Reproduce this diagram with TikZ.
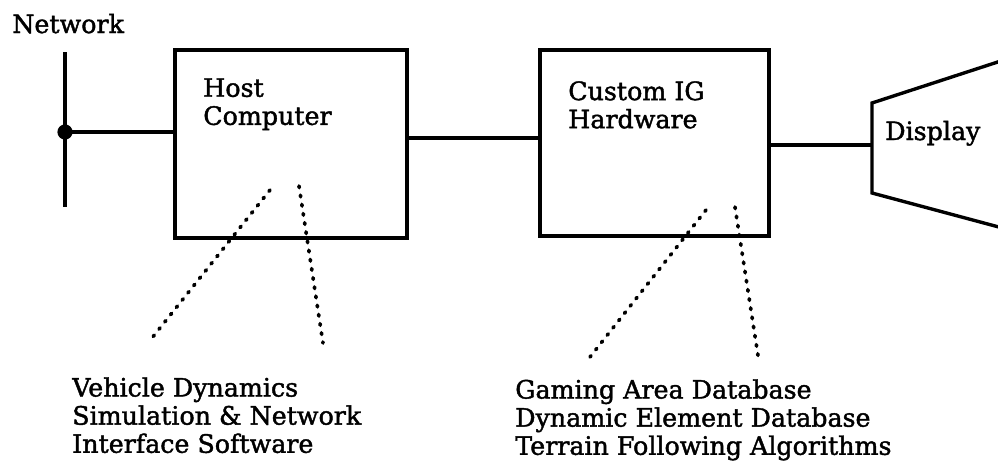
\documentclass[tikz,border=0pt]{standalone}
\usepackage{fontspec}
\setmainfont{DejaVu Serif}[FakeBold=1.6]
\usepackage{tikz}
\usetikzlibrary{calc, positioning}

\begin{document}
\begin{tikzpicture}[x=0.025cm, y=-0.025cm,
  font=\fontsize{18}{20}\selectfont,
  blockbox/.style={draw, line width=2.4pt, inner sep=0pt},
  busline/.style={line width=3.4pt},
  leader/.style={line width=2.6pt, line cap=round, dash pattern=on 1.2pt off 5.4pt},
  lbl/.style={inner sep=0pt, align=left, anchor=north west}]
  \useasboundingbox (0,0) rectangle (998,461);
  % network bus
  \node[anchor=base west, inner sep=0pt] (netlabel) at (12,33) {Network};
  \coordinate (bustop) at (65,52);
  \coordinate (busbot) at (65,207);
  \node[circle, fill, inner sep=0pt, minimum size=0.38cm] (junc) at (65,132) {};
  % boxes
  \node[blockbox, minimum width=5.8cm, minimum height=4.7cm] (host) at (291,144) {};
  \node[blockbox, minimum width=5.725cm, minimum height=4.65cm] (igbox) at (654.5,143) {};
  \node[lbl] (hostlbl) at (203,78) {Host\\Computer};
  \node[lbl] (iglbl) at (568,81) {Custom IG\\Hardware};
  % display
  \coordinate (disptl) at (872,103);
  \coordinate (dispbl) at (872,193);
  \coordinate (dispin) at (872,145);
  \node[anchor=base west, inner sep=0pt] (displbl) at (885,140) {Display};
  % links
  \coordinate (linkmid) at (470,138);
  \draw[busline] (bustop) -- (busbot);
  \draw[busline] (junc.center) -- (junc -| host.west);
  \draw[busline] (host.east |- linkmid) -- (igbox.west |- linkmid);
  \draw[busline] (igbox.east |- dispin) -- (dispin);
  \draw[line width=2.4pt, line join=miter] (1010,58) -- (disptl) -- (dispbl) -- (1010,230);
  % software notes
  \node[lbl] (hostnote) at (72,377) {Vehicle Dynamics\\Simulation \& Network\\Interface Software};
  \node[lbl] (ignote) at (515,379) {Gaming Area Database\\Dynamic Element Database\\Terrain Following Algorithms};
  \coordinate (hostA) at (270,190);
  \coordinate (hostAend) at (152,338);
  \coordinate (hostB) at (299,186);
  \coordinate (hostBend) at (323,343);
  \coordinate (igA) at (706,210);
  \coordinate (igAend) at (590,357);
  \coordinate (igB) at (735,207);
  \coordinate (igBend) at (759,362);
  \draw[leader] (hostA) -- (hostAend);
  \draw[leader] (hostB) -- (hostBend);
  \draw[leader] (igA) -- (igAend);
  \draw[leader] (igB) -- (igBend);
\end{tikzpicture}
\end{document}
